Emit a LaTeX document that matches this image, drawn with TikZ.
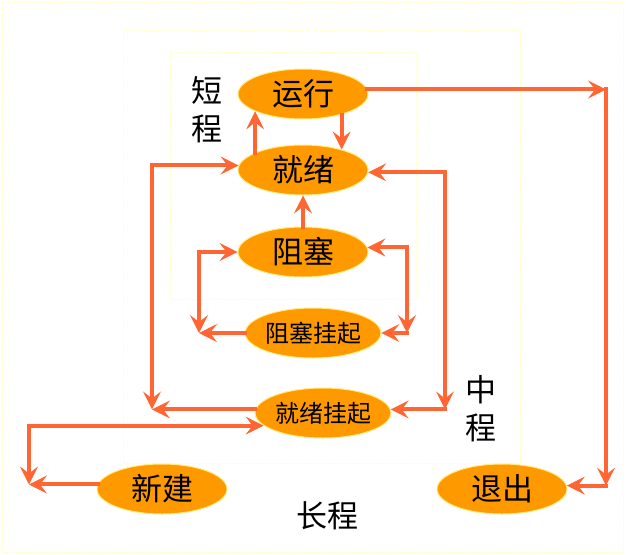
\documentclass[tikz,border=0pt]{standalone}
\usepackage{fontspec}
\newfontfamily\cjk{Noto Sans CJK SC}
\usetikzlibrary{shapes.geometric,arrows.meta}
\definecolor{arrowred}{HTML}{FF6633}
\definecolor{stateorange}{HTML}{FF9900}
\definecolor{rimyellow}{HTML}{FFEB80}
\definecolor{frameyellow}{HTML}{FFFFC8}

\begin{document}
\begin{tikzpicture}[x=1pt, y=-1pt,
    state/.style={ellipse, fill=stateorange, draw=rimyellow, line width=1pt,
      minimum width=130pt, minimum height=50pt, inner sep=0pt,
      font=\cjk\fontsize{31}{31}\selectfont},
    smallstate/.style={state, font=\cjk\fontsize{24}{24}\selectfont},
    arr/.style={arrowred, line width=4pt, line cap=rect,
      -{Stealth[length=18pt,width=18pt,inset=7pt,line width=1pt]}},
    lbl/.style={font=\cjk\fontsize{31}{38}\selectfont, align=center, inner sep=0pt}]
    \useasboundingbox (0,0) rectangle (626,554);
    %\draw[frameyellow] (0,0) rectangle (626,554);
    \draw[frameyellow, densely dotted, line width=0.5pt] (2,2) rectangle (623,552);
    \draw[frameyellow, densely dotted, line width=0.5pt] (123,30) rectangle (520,463);
    \draw[frameyellow, densely dotted, line width=0.5pt] (170,52) rectangle (416,299);

    \node[state] (yunxing) at (303,94) {运行};
    \node[state] (jiuxu) at (303,170) {就绪};
    \node[state] (zuse) at (303,252) {阻塞};
    \node[smallstate] (zusegq) at (313,333) {阻塞挂起};
    \node[smallstate, minimum width=128pt] (jiuxugq) at (323,413) {就绪挂起};
    \node[state] (xinjian) at (162,489) {新建};
    \node[state] (tuichu) at (502,489) {退出};

    \node[lbl] (duancheng) at (207,110) {短\\程};
    \node[lbl] (zhongcheng) at (481,409) {中\\程};
    \node[lbl] (changcheng) at (327,516) {长程};

    \coordinate (exittop) at (606,0 |- yunxing.4);
    \coordinate (exitbottom) at (606,0 |- tuichu.3);
    \coordinate (outerlefttop) at (152,0 |- jiuxu.176);
    \coordinate (outerleftbottom) at (152,0 |- jiuxugq.177);
    \coordinate (innerlefttop) at (199,0 |- zuse.west);
    \coordinate (innerleftbottom) at (199,0 |- zusegq.west);
    \coordinate (innerrighttop) at (407,0 |- zuse.4);
    \coordinate (innerrightbottom) at (407,0 |- zusegq.east);
    \coordinate (outerrighttop) at (445,0 |- jiuxu.-2);
    \coordinate (outerrightbottom) at (445,0 |- jiuxugq.3);
    \coordinate (newtop) at (29,0 |- jiuxugq.192);
    \coordinate (newbottom) at (29,0 |- xinjian.176);

    % short term
    \draw[arr] (yunxing.-28) -- (jiuxu.28);
    \draw[arr] (jiuxu.160) -- (yunxing.200);
    \draw[arr] (zuse.north) -- (jiuxu.south);

    % exit
    \draw[arr] (yunxing.4) -- (exittop);
    \draw[arr] (exittop) -- (exitbottom);
    \draw[arr] (exitbottom) -- (tuichu.3);

    % blocked / blocked suspended
    \draw[arr] (innerlefttop) -- (innerleftbottom);
    \draw[arr] (innerlefttop) -- (zuse.west);
    \draw[arr] (zusegq.west) -- (innerleftbottom);
    \draw[arr] (innerrighttop) -- (zuse.4);
    \draw[arr] (innerrighttop) -- (innerrightbottom);
    \draw[arr] (innerrightbottom) -- (zusegq.east);

    % ready / ready suspended
    \draw[arr] (outerlefttop) -- (outerleftbottom);
    \draw[arr] (outerlefttop) -- (jiuxu.176);
    \draw[arr] (jiuxugq.177) -- (outerleftbottom);
    \draw[arr] (outerrighttop) -- (jiuxu.-2);
    \draw[arr] (outerrighttop) -- (outerrightbottom);
    \draw[arr] (outerrightbottom) -- (jiuxugq.3);

    % new
    \draw[arr] (newtop) -- (jiuxugq.192);
    \draw[arr] (newtop) -- (newbottom);
    \draw[arr] (xinjian.176) -- (newbottom);
\end{tikzpicture}
\end{document}
